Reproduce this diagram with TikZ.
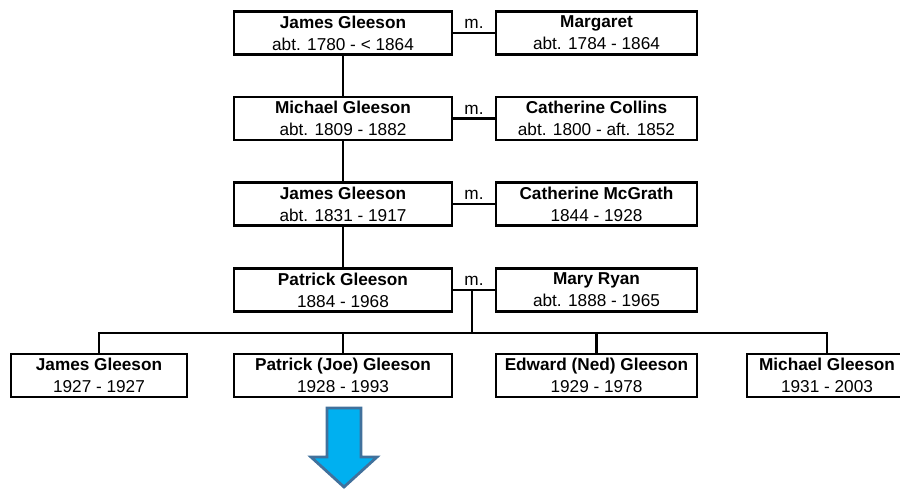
\documentclass[tikz,border=0pt]{standalone}
\usepackage{fontspec}
\setmainfont{Liberation Sans}
\definecolor{arrowfill}{HTML}{00B0F0}
\definecolor{arrowline}{HTML}{41719C}
\tikzset{
  person/.style={draw, line width=1.3pt, rectangle, inner sep=0pt,
    minimum height=21.5pt, minimum width=#1, align=center,
    font=\fontsize{8.6}{11}\selectfont},
  link/.style={line width=1.1pt},
  mlabel/.style={font=\fontsize{8.6}{11}\selectfont, inner sep=1.5pt, above},
  bigarrow/.style={fill=arrowfill, draw=arrowline, line width=1.4pt, line join=miter},
}
\newcommand{\pers}[2]{\textbf{#1}\\#2}
\begin{document}
\begin{tikzpicture}[x=0.5pt,y=-0.5pt]
\useasboundingbox (0,0) rectangle (900,489);
\clip (0,0) rectangle (900,489);
% ancestors
\node[person=109pt] (j1) at (343,33) {\pers{James Gleeson}{abt. 1780 - < 1864}};
\node[person=100.5pt] (w1) at (596.5,33) {\pers{Margaret}{abt. 1784 - 1864}};
\node[person=109pt] (j2) at (343,118.5) {\pers{Michael Gleeson}{abt. 1809 - 1882}};
\node[person=100.5pt] (w2) at (596.5,118.5) {\pers{Catherine Collins}{abt. 1800 - aft. 1852}};
\node[person=109pt] (j3) at (343,204) {\pers{James Gleeson}{abt. 1831 - 1917}};
\node[person=100.5pt] (w3) at (596.5,204) {\pers{Catherine McGrath}{1844 - 1928}};
\node[person=109pt] (j4) at (343,290) {\pers{Patrick Gleeson}{1884 - 1968}};
\node[person=100.5pt] (w4) at (596.5,290) {\pers{Mary Ryan}{abt. 1888 - 1965}};
% children
\node[person=88pt] (c1) at (99,375.5) {\pers{James Gleeson}{1927 - 1927}};
\node[person=109pt] (c2) at (343,375.5) {\pers{Patrick (Joe) Gleeson}{1928 - 1993}};
\node[person=100.5pt] (c3) at (596.5,375.5) {\pers{Edward (Ned) Gleeson}{1929 - 1978}};
\node[person=80pt] (c4) at (827,375.5) {\pers{Michael Gleeson}{1931 - 2003}};
% marriages
\draw[link] (j1.east) -- node[mlabel]{m.} (w1.west);
\draw[link] (j2.east) -- node[mlabel]{m.} (w2.west);
\draw[link] (j3.east) -- node[mlabel]{m.} (w3.west);
\draw[link] (j4.east) -- node[mlabel]{m.} coordinate[pos=0.46] (m4) (w4.west);
% descent
\draw[link] (j1.south) -- (j2.north);
\draw[link] (j2.south) -- (j3.north);
\draw[link] (j3.south) -- (j4.north);
\coordinate (bus) at (472,333);
\draw[link] (m4) -- (m4 |- bus);
\draw[link] (c1.north) -- (c1.north |- bus) -- (c4.north |- bus) -- (c4.north);
\draw[link] (c2.north) -- (c2.north |- bus);
\draw[link] (c3.north) -- (c3.north |- bus);
% arrow
\draw[bigarrow] (327,408) -- (361,408) -- (361,457) -- (377,457) -- (344,487) -- (311,457) -- (327,457) -- cycle;
\end{tikzpicture}
\end{document}
